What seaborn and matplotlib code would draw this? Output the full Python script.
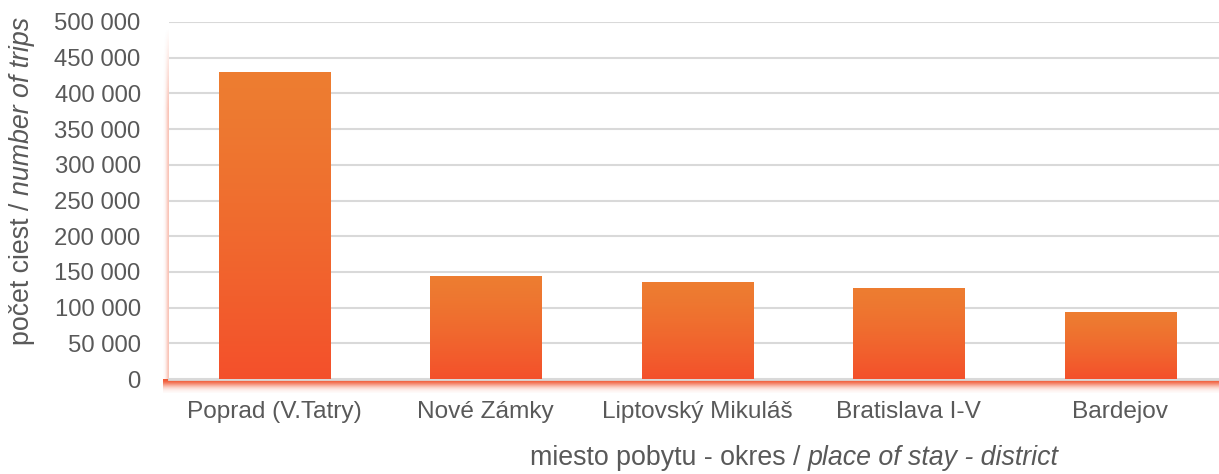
import numpy as np
import pandas as pd
import matplotlib
matplotlib.use("Agg")
import matplotlib.pyplot as plt
import seaborn as sns
from matplotlib.colors import to_rgb
from matplotlib.ticker import FuncFormatter

# data
districts = ["Poprad (V.Tatry)", "Nové Zámky", "Liptovský Mikuláš", "Bratislava I-V", "Bardejov"]
trips = [430000, 144500, 136000, 128000, 94000]
y_ticks = [0, 50000, 100000, 150000, 200000, 250000, 300000, 350000, 400000, 450000, 500000]

TOP_COLOR = "#ED7D31"
BOTTOM_COLOR = "#F4502B"
TEXT_COLOR = "#595959"
GRID_COLOR = "#D9D9D9"

sns.set_style("white")
plt.rcParams['font.family'] = ['Liberation Sans', 'DejaVu Sans']

W, H = 1219, 474
fig = plt.figure(figsize=(W / 100, H / 100), dpi=100)

# plot area in pixels
left_px, right_px, top_px, bottom_px = 168.5, 1226, 22, 379
ax = fig.add_axes([left_px / W, 1 - bottom_px / H, (right_px - left_px) / W, (bottom_px - top_px) / H])
ax.set_zorder(2)

df = pd.DataFrame({"district": districts, "trips": trips})
sns.barplot(data=df, x="district", y="trips", width=0.525, ax=ax, color=TOP_COLOR, zorder=3)

# vertical gradient inside every bar
c_top = np.array(to_rgb(TOP_COLOR))
c_bot = np.array(to_rgb(BOTTOM_COLOR))
t = np.linspace(0, 1, 256) ** 1.3
grad = (c_top[None, :] * (1 - t[:, None]) + c_bot[None, :] * t[:, None])[:, None, :]
for patch in ax.patches:
    x0, y0 = patch.get_x(), patch.get_y()
    w, h = patch.get_width(), patch.get_height()
    im = ax.imshow(grad, extent=(x0, x0 + w, y0, y0 + h), aspect="auto", zorder=3.5, origin="upper")
    im.set_clip_path(patch)
    patch.set_facecolor("none")
    patch.set_edgecolor("none")

ax.set_xlim(-0.5, 4.5)
ax.set_ylim(0, 500000)
ax.set_yticks(y_ticks)
ax.yaxis.set_major_formatter(FuncFormatter(lambda v, p: f"{int(v):,}".replace(",", " ")))
ax.grid(axis="y", color=GRID_COLOR, linewidth=1.5, zorder=0)
ax.set_axisbelow(True)
for s in ["top", "right", "left"]:
    ax.spines[s].set_visible(False)
ax.spines["bottom"].set_color(GRID_COLOR)
ax.spines["bottom"].set_linewidth(2)
ax.tick_params(axis="y", length=0, pad=20, labelsize=17.2, labelcolor=TEXT_COLOR)
ax.tick_params(axis="x", length=0, pad=16, labelsize=17.6, labelcolor=TEXT_COLOR)
ax.set_xlabel("")
ax.set_ylabel("")

# red glow along the left and bottom edge of the plot area
sh = fig.add_axes([0, 0, 1, 1])
sh.set_zorder(1)
sh.axis("off")
yy, xx = np.mgrid[0:H, 0:W]
rgba = np.zeros((H, W, 4))
rgba[..., :3] = to_rgb("#F0502A")
below = yy - bottom_px
a_bottom = np.where((below >= 0) & (below < 14) & (xx > left_px - 6), 0.95 * np.exp(-((below / 7.0) ** 2)), 0)
leftd = left_px - xx
fade = np.clip((yy - 28) / 80.0, 0, 1)
a_left = np.where((leftd >= 0) & (leftd < 8) & (yy < bottom_px + 8), 0.35 * np.exp(-((leftd / 3.0) ** 2)) * fade, 0)
rgba[..., 3] = np.maximum(a_bottom, a_left)
sh.imshow(rgba, extent=(0, W, H, 0), aspect="auto", interpolation="bilinear")
sh.set_xlim(0, W)
sh.set_ylim(H, 0)

# axis titles with an italic English part
fig.canvas.draw()
r = fig.canvas.get_renderer()
lab_size = 19.3

t1 = fig.text(530 / W, 1 - 458 / H, "miesto pobytu - okres / ", fontsize=lab_size, color=TEXT_COLOR, ha="left", va="center")
bb = t1.get_window_extent(r)
fig.text(bb.x1 / W, 1 - 458 / H, "place of stay - district", fontsize=lab_size, color=TEXT_COLOR,
         ha="left", va="center", style="italic")

t2 = fig.text(22 / W, 1 - 345 / H, "počet ciest / ", fontsize=lab_size, color=TEXT_COLOR,
              ha="center", va="bottom", rotation=90)
bb = t2.get_window_extent(r)
fig.text(22 / W, bb.y1 / H, "number of trips", fontsize=lab_size, color=TEXT_COLOR,
         ha="center", va="bottom", rotation=90, style="italic")

fig.savefig("out.png", dpi=100, facecolor="white")
